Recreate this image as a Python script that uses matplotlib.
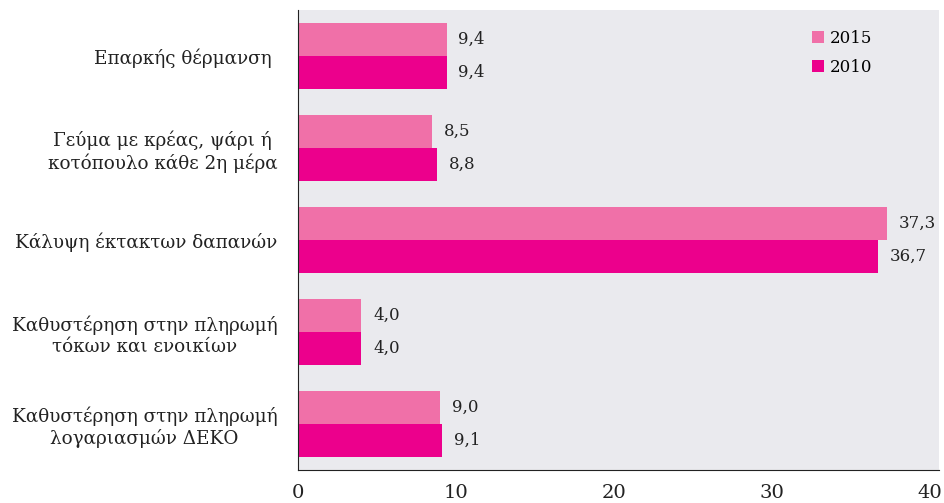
import matplotlib
matplotlib.use('Agg')
import matplotlib.pyplot as plt
import numpy as np

categories = [
    "Επαρκής θέρμανση ",
    "Γεύμα με κρέας, ψάρι ή\nκοτόπουλο κάθε 2η μέρα",
    "Κάλυψη έκτακτων δαπανών",
    "Καθυστέρηση στην πληρωμή\nτόκων και ενοικίων",
    "Καθυστέρηση στην πληρωμή\nλογαριασμών ΔΕΚΟ",
]
vals_2015 = [9.4, 8.5, 37.3, 4.0, 9.0]
vals_2010 = [9.4, 8.8, 36.7, 4.0, 9.1]
xticks = [0, 10, 20, 30, 40]

c2015 = '#F070A8'
c2010 = '#EC008C'
plt.rcParams['font.family'] = ['DejaVu Serif']

fig = plt.figure(figsize=(9.44, 5.03), dpi=100)
ax = fig.add_axes([0.3157, 0.0656, 0.679, 0.9145])
ax.set_facecolor('#EAEAEE')

y = np.arange(len(categories))
h = 0.36
ax.barh(y - h / 2, vals_2015, height=h, color=c2015, label='2015')
ax.barh(y + h / 2, vals_2010, height=h, color=c2010, label='2010')

for yi, v in zip(y, vals_2015):
    ax.text(v + 0.75, yi - h / 2, f"{v:.1f}".replace('.', ','), va='center',
            ha='left', fontsize=12, color='#222222')
for yi, v in zip(y, vals_2010):
    ax.text(v + 0.75, yi + h / 2, f"{v:.1f}".replace('.', ','), va='center',
            ha='left', fontsize=12, color='#222222')

ax.set_ylim(4.5, -0.5)
ax.set_xlim(0, 40.57)
ax.set_xticks(xticks)
ax.set_xticklabels([str(t) for t in xticks], fontsize=14)
ax.set_yticks(y)
ax.set_yticklabels(categories, fontsize=13.2, multialignment='center')
ax.tick_params(axis='both', length=0, colors='#222222')
ax.tick_params(axis='y', pad=15)
ax.tick_params(axis='x', pad=10)

for s in ['top', 'right']:
    ax.spines[s].set_visible(False)
ax.spines['left'].set_color('#222222')
ax.spines['bottom'].set_color('#222222')

ax.legend(loc='upper right', bbox_to_anchor=(0.92, 0.99), frameon=False,
          fontsize=12, handlelength=0.7, handleheight=0.7, handletextpad=0.4,
          labelspacing=0.75)

fig.savefig('out.png', dpi=100)
